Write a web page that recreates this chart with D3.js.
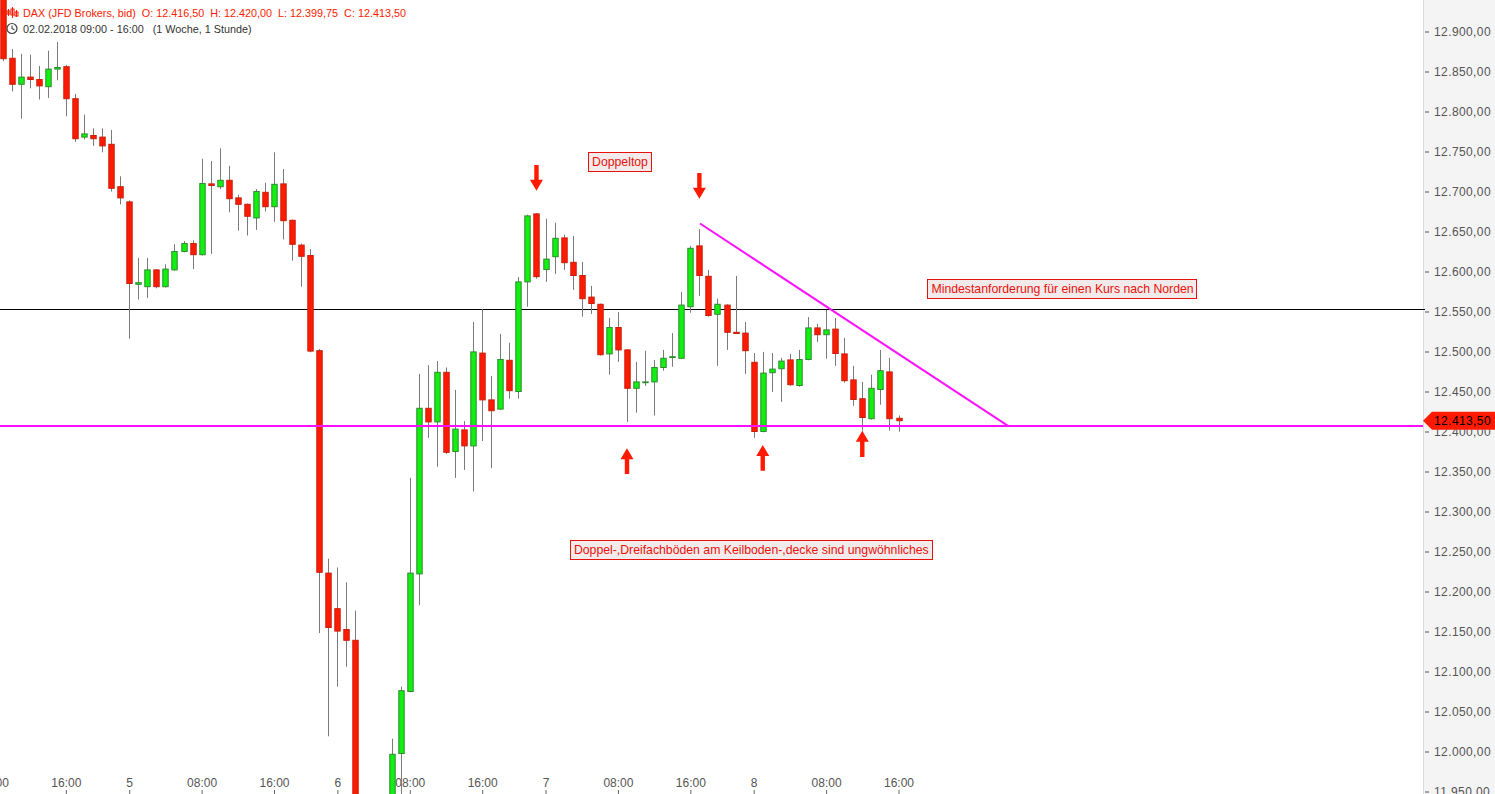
<!DOCTYPE html>
<html><head><meta charset="utf-8">
<script src="https://cdn.jsdelivr.net/npm/d3@7"></script>
<style>
html,body{margin:0;padding:0;background:#fff;overflow:hidden;}
svg{display:block;}
</style></head>
<body>
<svg id="chart" width="1495" height="794"></svg>
<script>
// ---- data (hourly candles, DAX JFD Brokers bid) ----
const opens  = [12952,12866.5,12834,12843,12840,12831,12853,12856,12816,12768,12770,12768,12759,12706,12687,12584,12581,12602,12581,12602,12625,12635,12621,12709.5,12706,12714,12692,12684,12667,12699,12681,12709.5,12664,12633,12620,12501,12223,12178.5,12152.5,12139,11905,11850,11880,11900,11997.5,12075,12222,12429,12412,12474,12375,12402,12382,12498,12439.5,12428,12489,12450,12587,12672,12602.5,12618.5,12642,12611.5,12595,12568,12559,12497,12530,12502,12454,12461,12462,12480,12493,12491.5,12556,12632,12594,12546.5,12558,12524,12523,12486.5,12400,12473.5,12478.5,12489.5,12457.5,12490,12529.5,12521,12528,12497,12464.5,12441,12416,12452.5,12474.5,12416.5];
const highs  = [12968,12878,12872,12871,12857,12876,12887,12858,12822,12796,12779,12779,12777,12719,12689,12617,12617,12603,12609,12634,12638,12639,12741,12738,12754,12732,12696,12685,12703,12711,12749,12728,12665,12635,12628,12503,12241,12230,12211.5,12176,11935,11920,11935,12016,12081,12342,12472,12483,12488,12480,12452,12413,12537,12553,12469.5,12522,12511,12593,12671,12673,12666,12661,12646,12644.5,12612,12582,12560,12542,12549.5,12503,12487,12501,12489.5,12502,12523,12574.5,12632,12653,12602,12566,12559,12594.5,12537,12498,12499.5,12498,12492,12497,12502,12543,12534.5,12552,12542,12517,12482,12462,12471,12502,12492,12420];
const lows   = [12863,12825,12791,12829,12815,12817,12839,12794,12762,12765,12757,12749,12700,12684,12516,12565,12567,12579,12580,12601,12624,12603,12620,12622,12703,12674,12651,12645,12652,12675,12662,12640,12613.5,12581,12499,12148,12019,12081,12106,11880,11800,11760,11850,11880,11930,12074,12183,12392,12356,12372,12342,12352,12325,12388,12354,12427,12441,12441,12556,12591,12587,12597,12602,12577,12543.5,12547,12495,12471,12487,12412,12423.5,12457,12420,12476,12481,12491,12548.5,12569.5,12543.5,12482,12502,12522,12472,12392,12399,12449.5,12437,12457,12456,12489,12512,12491,12482,12461,12432,12401,12415,12433.5,12401,12399.75];
const closes = [12866,12834,12843,12840,12832,12853,12855,12816,12766,12772,12766,12757,12704,12692,12585,12586,12602,12581,12603,12625,12635,12621,12710,12707.5,12714,12691,12684,12669,12700,12681,12709,12663.5,12634,12619,12500.5,12224,12155,12150.5,12139,11905,11850,11880,11900,11996.5,12076,12223,12429,12412,12474,12374,12403,12382,12499.5,12439.5,12426,12490,12451,12587,12669.5,12593.5,12615.5,12641.5,12611,12595,12566,12560,12496,12530,12502,12454,12462,12462,12480,12491.5,12493.5,12558,12629,12595,12545,12559,12524,12522.5,12501,12400,12473,12478,12488,12458.5,12490,12529.5,12521,12527,12497.5,12463.5,12440,12417.5,12454,12476,12416,12413.5];

const priceTicks = [11950,12000,12050,12100,12150,12200,12250,12300,12350,12400,12450,12500,12550,12600,12650,12700,12750,12800,12850,12900];
const timeTickIdx = [-1,7,14,22,30,37,45,53,60,68,76,83,91,99];
const timeTickLabels = ["08:00","16:00","5","08:00","16:00","6","08:00","16:00","7","08:00","16:00","8","08:00","16:00"];

const supportLevel = 12407;      // magenta horizontal
const resistanceLevel = 12553;   // black horizontal
const trendLine = [[77.07,12660],[111.1,12407]];
const downArrows = [[59,12701,12733],[77,12691,12723]];
const upArrows = [[69,12379,12347],[84,12383,12351],[95,12401,12368]];
const notes = [
  {text:"Doppeltop", i:64.7, p:12749},
  {text:"Mindestanforderung für einen Kurs nach Norden", i:102.2, p:12590.6},
  {text:"Doppel-,Dreifachböden am Keilboden-,decke sind ungwöhnliches", i:62.7, p:12264}
];
const headerTitle = "DAX (JFD Brokers, bid)  O: 12.416,50  H: 12.420,00  L: 12.399,75  C: 12.413,50";
const headerSub = "02.02.2018 09:00 - 16:00   (1 Woche, 1 Stunde)";
const lastPrice = 12413.5;

// ---- drawing ----
const W = 1495, H = 794, axisX = 1423;
const svg = d3.select("#chart");
const x = d3.scaleLinear().domain([0, 99]).range([2.5, 898.5]);
const y = d3.scaleLinear().domain([11950, 12900]).range([791.5, 31.5]);
const de = d3.formatLocale({decimal:",", thousands:".", grouping:[3], currency:["","€"]});
const fmt = de.format(",.2f");
const FONT = "'Liberation Sans', Arial, sans-serif";

svg.append("defs").append("clipPath").attr("id","plot")
  .append("rect").attr("x",0).attr("y",0).attr("width",axisX).attr("height",H);

// right axis panel
svg.append("rect").attr("x",axisX).attr("y",0).attr("width",W-axisX).attr("height",H).attr("fill","#f4f4f4");
svg.append("line").attr("x1",axisX+0.5).attr("x2",axisX+0.5).attr("y1",0).attr("y2",H).attr("stroke","#dcdcdc");

const plot = svg.append("g").attr("clip-path","url(#plot)");

// x axis (labels above tick marks at the bottom)
const xAxis = d3.axisTop(x).tickValues(timeTickIdx)
  .tickFormat((d,i)=>timeTickLabels[i]).tickSize(4).tickPadding(3);
const gx = plot.append("g").attr("transform",`translate(0,${H})`).call(xAxis);
gx.select(".domain").remove();
gx.selectAll("line").attr("stroke","#666");
gx.selectAll("text").attr("fill","#555").style("font-family",FONT).style("font-size","12px");

// horizontal lines
plot.append("line").attr("x1",0).attr("x2",axisX).attr("y1",Math.round(y(resistanceLevel))+0.5).attr("y2",Math.round(y(resistanceLevel))+0.5)
  .attr("stroke","#000").attr("stroke-width",1);

// candles
const data = opens.map((o,i)=>({i, o, h:highs[i], l:lows[i], c:closes[i]}));
const bw = 5.4;
const g = plot.append("g");
g.selectAll("line.wick").data(data).join("line").attr("class","wick")
  .attr("x1",d=>Math.round(x(d.i))+0.5).attr("x2",d=>Math.round(x(d.i))+0.5)
  .attr("y1",d=>y(d.h)).attr("y2",d=>y(d.l))
  .attr("stroke","#7a7a7a").attr("stroke-width",1);
g.selectAll("rect.body").data(data).join("rect").attr("class","body")
  .attr("x",d=>Math.round(x(d.i))+0.5-bw/2)
  .attr("y",d=>y(Math.max(d.o,d.c)))
  .attr("width",bw)
  .attr("height",d=>Math.max(0.8, Math.abs(y(d.o)-y(d.c))))
  .attr("fill",d=>d.c>=d.o?"#11f011":"#ff1a00")
  .attr("stroke",d=>d.c>=d.o?"#2e8b2e":"#c81e0a")
  .attr("stroke-width",1);

// magenta lines
plot.append("line").attr("x1",0).attr("x2",axisX).attr("y1",y(supportLevel)).attr("y2",y(supportLevel))
  .attr("stroke","#ff10ff").attr("stroke-width",2);
plot.append("line")
  .attr("x1",x(trendLine[0][0])).attr("y1",y(trendLine[0][1]))
  .attr("x2",x(trendLine[1][0])).attr("y2",y(trendLine[1][1]))
  .attr("stroke","#ff10ff").attr("stroke-width",2);

// arrows
function arrow(cx, tipY, tailY){
  const dir = tipY > tailY ? 1 : -1; // 1 = pointing down
  const head = 11, hw = 6.5, sw = 2.2;
  const neck = tipY - dir*head;
  const pts = [
    [cx-sw, tailY],[cx+sw, tailY],[cx+sw, neck],[cx+hw, neck],[cx, tipY],[cx-hw, neck],[cx-sw, neck]
  ];
  plot.append("path").attr("d","M"+pts.map(p=>p.join(",")).join("L")+"Z").attr("fill","#ff1a00");
}
downArrows.forEach(a=>arrow(x(a[0]), y(a[1]), y(a[2])));
upArrows.forEach(a=>arrow(x(a[0]), y(a[1]), y(a[2])));

// notes
notes.forEach(n=>{
  const gx0 = x(n.i), gy0 = y(n.p);
  const gn = plot.append("g");
  const t = gn.append("text").attr("x",gx0+4).attr("y",gy0+14).text(n.text)
    .attr("fill","#e8120c").style("font-family",FONT).style("font-size","12.25px");
  const bb = t.node().getBBox();
  gn.insert("rect","text").attr("x",Math.round(gx0)+0.5).attr("y",Math.round(gy0)+0.5)
    .attr("width",Math.round(bb.width+7)).attr("height",19)
    .attr("fill","#f3ebeb").attr("stroke","#e8120c").attr("stroke-width",1);
});

// y axis
const yAxis = d3.axisRight(y).tickValues(priceTicks).tickFormat(fmt).tickSize(4).tickPadding(5);
const gy = svg.append("g").attr("transform",`translate(${axisX+2},0)`).call(yAxis);
gy.select(".domain").remove();
gy.selectAll("line").attr("stroke","#555");
gy.selectAll("text").attr("fill","#555").style("font-family",FONT).style("font-size","12px").style("letter-spacing","0.4px");

// small mark of the black line on the axis edge
svg.append("line").attr("x1",axisX-12).attr("x2",axisX+2).attr("y1",Math.round(y(resistanceLevel))+0.5).attr("y2",Math.round(y(resistanceLevel))+0.5).attr("stroke","#000");

// last price label
const ly = y(lastPrice);
svg.append("path")
  .attr("d",`M${axisX},${ly}L${axisX+9},${ly-9}L${W},${ly-9}L${W},${ly+9}L${axisX+9},${ly+9}Z`)
  .attr("fill","#ff1a00");
svg.append("text").attr("x",axisX+11).attr("y",ly+4.5).text(fmt(lastPrice))
  .attr("fill","#000").style("font-family",FONT).style("font-size","12px").style("letter-spacing","0.4px");

// header
const hdr = svg.append("g");
const ic = hdr.append("g").attr("stroke","#ff1a00").attr("fill","none").attr("stroke-width",1);
[[8,9,16,11,14],[12,7,18,9,15],[16,10,17,12,16]].forEach(a=>{
  ic.append("line").attr("x1",a[0]+0.5).attr("x2",a[0]+0.5).attr("y1",a[1]).attr("y2",a[2]);
  ic.append("rect").attr("x",a[0]-1).attr("y",a[3]).attr("width",3).attr("height",a[4]-a[3]);
});
hdr.append("text").attr("x",23).attr("y",17).text(headerTitle).attr("xml:space","preserve")
  .style("white-space","pre").attr("fill","#ff1a00").style("font-family",FONT).style("font-size","10.8px");
hdr.append("circle").attr("cx",12).attr("cy",28.5).attr("r",5).attr("fill","none").attr("stroke","#444").attr("stroke-width",1.2);
hdr.append("path").attr("d","M12,25.5V28.5L14.5,30").attr("fill","none").attr("stroke","#444").attr("stroke-width",1.1);
hdr.append("text").attr("x",23).attr("y",33).text(headerSub).attr("xml:space","preserve")
  .style("white-space","pre").attr("fill","#333").style("font-family",FONT).style("font-size","10.8px");
</script>
</body></html>
